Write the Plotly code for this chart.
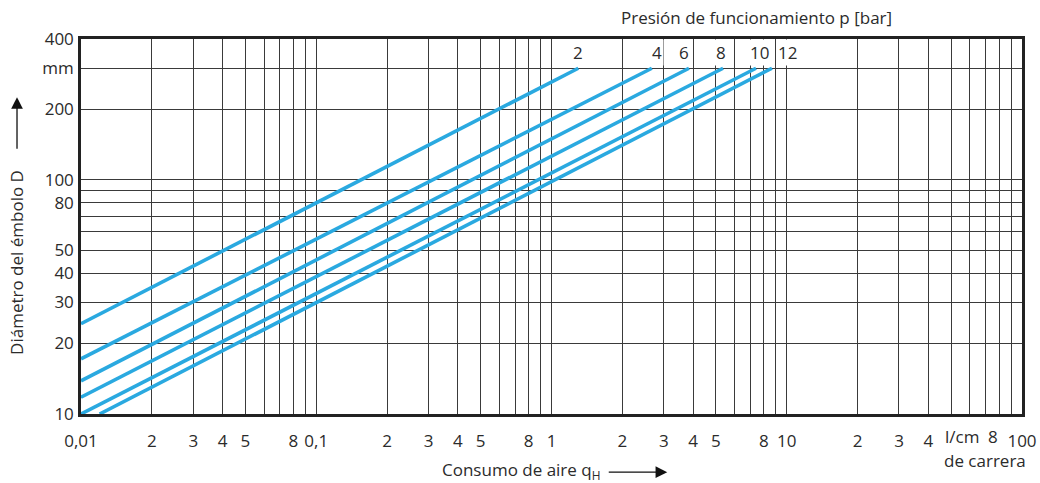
import numpy as np
import plotly.graph_objects as go

# ---- data ----
pressures = [2, 4, 6, 8, 10, 12]                 # bar
q_start = [0.01, 0.01, 0.01, 0.01, 0.01, 0.0120]  # l/cm at line start
d_start = [24.3, 17.2, 13.85, 11.8, 10.0, 10.0]   # mm at line start
q_end = [1.30, 2.67, 3.84, 5.36, 7.40, 8.65]      # l/cm at line end
d_end = [300, 300, 300, 300, 300, 300]            # mm at line end
label_q = [1.30, 2.81, 3.66, 5.25, 7.69, 10.1]    # x-position of pressure labels
label_d = 350

x_tickvals = [0.01, 0.02, 0.03, 0.04, 0.05, 0.06, 0.07, 0.08, 0.09,
              0.1, 0.2, 0.3, 0.4, 0.5, 0.6, 0.7, 0.8, 0.9,
              1, 2, 3, 4, 5, 6, 7, 8, 9,
              10, 20, 30, 40, 50, 60, 70, 80, 90, 100]
x_ticktext = ["0,01", "2", "3", "4", "5", "", "", "8", "",
              "0,1", "2", "3", "4", "5", "", "", "8", "",
              "1", "2", "3", "4", "5", "", "", "8", "",
              "10", "2", "3", "4", "", "", "", "", "", "100"]
y_tickvals = [10, 20, 30, 40, 50, 60, 70, 80, 90, 100, 200, 300, 400]
y_ticktext = ["10", "20", "30", "40", "50", "", "", "80", "", "100", "200", "mm", "400"]

LINE = "#2AA9E0"
TXT = "#2b2b2b"
GRID = "#3a3a3a"
FONT = "Open Sans"
FS = 17

fig = go.Figure()
for p, qs, ds, qe, de in zip(pressures, q_start, d_start, q_end, d_end):
    fig.add_trace(go.Scatter(x=[qs, qe], y=[ds, de], mode="lines",
                             line=dict(color=LINE, width=3.6),
                             name=f"{p} bar", showlegend=False, hoverinfo="skip"))

for p, lq in zip(pressures, label_q):
    fig.add_annotation(x=np.log10(lq), y=np.log10(label_d), xref="x", yref="y",
                       xanchor="center", yanchor="middle",
                       text=str(p), showarrow=False, bgcolor="white",
                       font=dict(family=FONT, size=FS, color=TXT), borderpad=1)

def note(text, x, y, **kw):
    fig.add_annotation(x=x, y=y, xref="paper", yref="paper", text=text,
                       showarrow=False, xanchor="center", yanchor="middle",
                       font=dict(family=FONT, size=FS, color=TXT), **kw)

note("Presión de funcionamiento p [bar]", 0.718, 1.056)
note("Diámetro del émbolo D", -0.068, 0.403, textangle=-90)
note("Consumo de aire q<sub>H</sub>", 0.468, -0.152)
note("l/cm", 0.936, -0.061)
note("8", 0.969, -0.061)
note("de carrera", 0.961, -0.123)

# arrows
fig.add_annotation(x=-0.068, y=0.845, xref="paper", yref="paper", text="",
                   showarrow=True, arrowhead=2, arrowsize=1.8, arrowwidth=1.3,
                   arrowcolor="#111", ax=0, ay=53)
fig.add_annotation(x=0.623, y=-0.155, xref="paper", yref="paper", text="",
                   showarrow=True, arrowhead=2, arrowsize=1.8, arrowwidth=1.3,
                   arrowcolor="#111", ax=-60, ay=0)

fig.update_xaxes(type="log", range=[-2, 2], tickvals=x_tickvals, ticktext=x_ticktext,
                 showgrid=True, gridcolor=GRID, gridwidth=1.3, ticks="",
                 showline=True, linecolor="#222", linewidth=2.5, mirror=True,
                 tickfont=dict(family=FONT, size=FS, color=TXT), ticklabelstandoff=10,
                 zeroline=False, automargin=False)
fig.update_yaxes(type="log", range=[1, np.log10(400)], tickvals=y_tickvals, ticktext=y_ticktext,
                 showgrid=True, gridcolor=GRID, gridwidth=1.3, ticks="",
                 showline=True, linecolor="#222", linewidth=2.5, mirror=True,
                 tickfont=dict(family=FONT, size=FS, color=TXT), ticklabelstandoff=1,
                 zeroline=False, automargin=False)

fig.update_layout(width=1040, height=483, margin=dict(l=81, r=18, t=39, b=69),
                  plot_bgcolor="white", paper_bgcolor="white")

fig.write_html("out.html", config={"displayModeBar": False},
               post_script="document.body.style.margin='0';")
